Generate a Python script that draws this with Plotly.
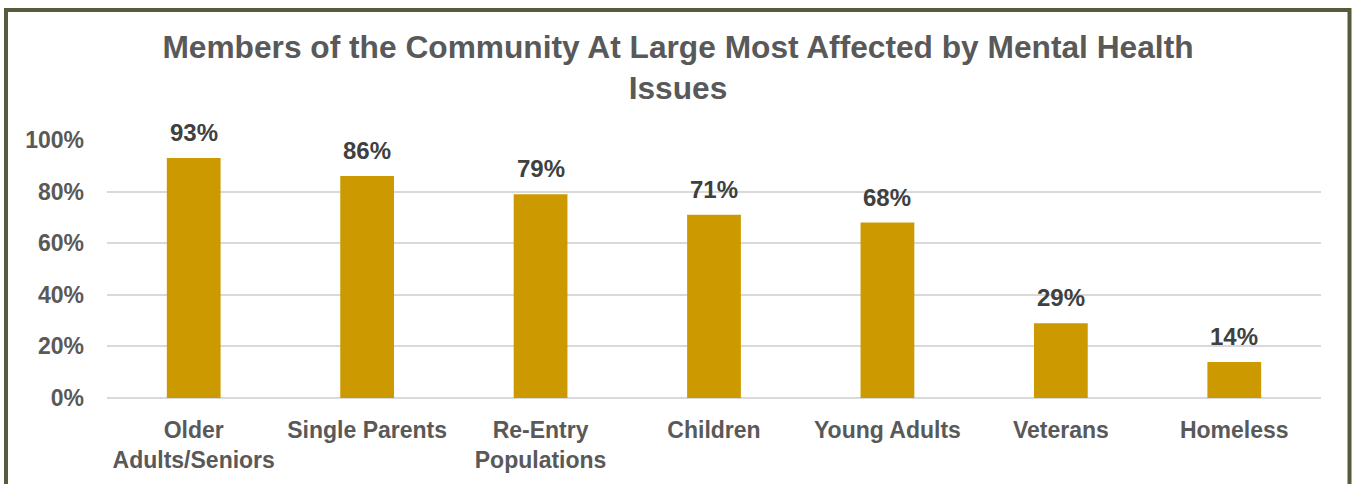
import plotly.graph_objects as go

categories = ["Older<br>Adults/Seniors", "Single Parents", "Re-Entry<br>Populations",
              "Children", "Young Adults", "Veterans", "Homeless"]
values = [0.93, 0.86, 0.79, 0.71, 0.68, 0.29, 0.14]
labels = ["93%", "86%", "79%", "71%", "68%", "29%", "14%"]
ytick_vals = [0, 0.2, 0.4, 0.6, 0.8, 1.0]
ytick_text = ["0%", "20%", "40%", "60%", "80%", "100%"]
title = "Members of the Community At Large Most Affected by Mental Health<br>Issues"

W, H = 1352, 484
L, R, T, B = 107, 31, 140, 86
pw, ph = W - L - R, H - T - B

FONT = "Liberation Sans, Arial, sans-serif"

fig = go.Figure(go.Bar(
    x=categories, y=values,
    marker=dict(color="#CC9900", line=dict(width=0)),
    width=0.31, hoverinfo="skip",
))

for c, v, t in zip(categories, values, labels):
    fig.add_annotation(x=c, y=v, text=t, showarrow=False, yanchor="bottom", yshift=10,
                       font=dict(family=FONT, size=24, color="#404040", weight="bold"))

def px2x(px):
    return (px - L) / pw

def px2y(py):
    return (H - B - py) / ph

fig.update_layout(
    width=W, height=H,
    margin=dict(l=L, r=R, t=T, b=B),
    paper_bgcolor="white", plot_bgcolor="white",
    showlegend=False,
    title=dict(text=title, x=678 / W, xanchor="center", y=1 - 58 / H, yanchor="middle",
               font=dict(family=FONT, size=31.7, color="#595959", weight="bold")),
    font=dict(family=FONT, color="#595959"),
    xaxis=dict(tickfont=dict(family=FONT, size=23, color="#595959", weight="bold"),
               showgrid=False, showline=False, ticks="", ticklabelstandoff=16),
    yaxis=dict(range=[0, 1.0], tickvals=ytick_vals, ticktext=ytick_text,
               tickfont=dict(family=FONT, size=23, color="#595959", weight="bold"),
               showgrid=True, gridcolor="#D9D9D9", gridwidth=1.5,
               zeroline=True, zerolinecolor="#D9D9D9", zerolinewidth=1.5,
               showline=False, ticks="", ticklabelstandoff=22),
    shapes=[dict(type="rect", xref="paper", yref="paper",
                 x0=px2x(6), x1=px2x(1349.5), y0=px2y(520), y1=px2y(10),
                 line=dict(color="#575A3B", width=4), fillcolor="rgba(0,0,0,0)", layer="above")],
)

fig.write_html("out.html", config={"displayModeBar": False},
               post_script="document.body.style.margin='0';document.body.style.overflow='hidden';")
